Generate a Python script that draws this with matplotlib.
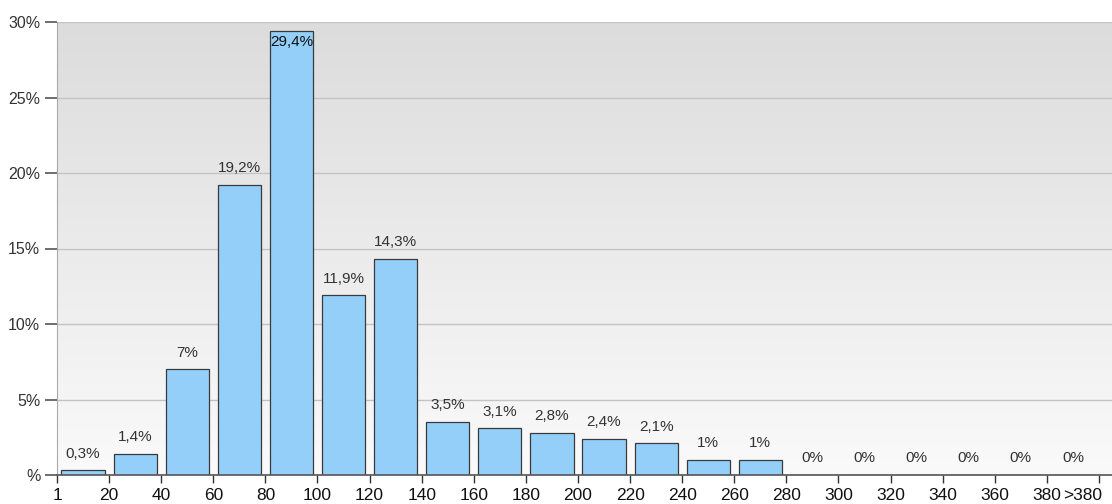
import numpy as np
import matplotlib.pyplot as plt
from matplotlib.colors import LinearSegmentedColormap

plt.rcParams['font.family'] = ['Liberation Sans', 'DejaVu Sans']

# Répartition en pourcentage par tranche
values = [0.3, 1.4, 7, 19.2, 29.4, 11.9, 14.3, 3.5, 3.1, 2.8, 2.4, 2.1, 1, 1, 0, 0, 0, 0, 0, 0]
bar_labels = ['0,3%', '1,4%', '7%', '19,2%', '29,4%', '11,9%', '14,3%', '3,5%', '3,1%', '2,8%',
              '2,4%', '2,1%', '1%', '1%', '0%', '0%', '0%', '0%', '0%', '0%']
edge_labels = ['1', '20', '40', '60', '80', '100', '120', '140', '160', '180', '200', '220',
               '240', '260', '280', '300', '320', '340', '360', '380', '>380']
y_ticks = [0, 5, 10, 15, 20, 25, 30]
y_labels = ['%', '5%', '10%', '15%', '20%', '25%', '30%']

W, H = 1112, 504
fig = plt.figure(figsize=(W / 100, H / 100), dpi=100)
ax = fig.add_axes([57 / W, 1 - 475 / H, (W - 57) / W, (475 - 22) / H])

xmax = 20.25
ymax = 30

# fond dégradé gris (haut) -> blanc (bas)
grad = np.linspace(0, 1, 256).reshape(-1, 1)
cmap_bg = LinearSegmentedColormap.from_list('bg', ['#dcdcdc', '#fafafa'])
ax.imshow(grad, cmap=cmap_bg, extent=[0, xmax, 0, ymax], aspect='auto',
          zorder=0, origin='upper')

for y in y_ticks[1:]:
    ax.axhline(y, color='#c4c4c4', lw=1, zorder=1)

x = np.arange(len(values)) + 0.5
ax.bar(x, values, width=0.83, color='#94cffa', edgecolor='#3a3a3a', lw=0.9, zorder=2)

for xi, v, lab in zip(x, values, bar_labels):
    if v > 28:
        ax.annotate(lab, (xi, v), xytext=(0, -3), textcoords='offset points',
                    ha='center', va='top', fontsize=11, color='#111111', zorder=3)
    else:
        ax.annotate(lab, (xi, v), xytext=(0, 12), textcoords='offset points',
                    ha='center', va='center', fontsize=11, color='#333333', zorder=3)

ax.set_xlim(0, xmax)
ax.set_ylim(0, ymax)
ax.set_yticks(y_ticks)
ax.set_yticklabels(y_labels, fontsize=11.5, color='#333333')
ticks = np.arange(len(edge_labels))
ax.set_xticks(ticks)
ax.set_xticklabels(edge_labels[:-1] + [''], fontsize=12.5, color='#111111')
# dernier libellé décalé pour rester dans l'image
ax.annotate(edge_labels[-1], (ticks[-1], 0), xytext=(2, -9), textcoords='offset points',
            ha='right', va='top', fontsize=12.5, color='#111111', annotation_clip=False)

ax.tick_params(axis='y', length=9, width=1.2, color='#555555', pad=3)
ax.tick_params(axis='x', length=6, width=1, color='#333333', pad=3)

for s in ['top', 'right']:
    ax.spines[s].set_visible(False)
ax.spines['left'].set_color('#aaaaaa')
ax.spines['bottom'].set_color('#555555')
ax.spines['bottom'].set_linewidth(1.2)

fig.savefig('out.png', dpi=100)
